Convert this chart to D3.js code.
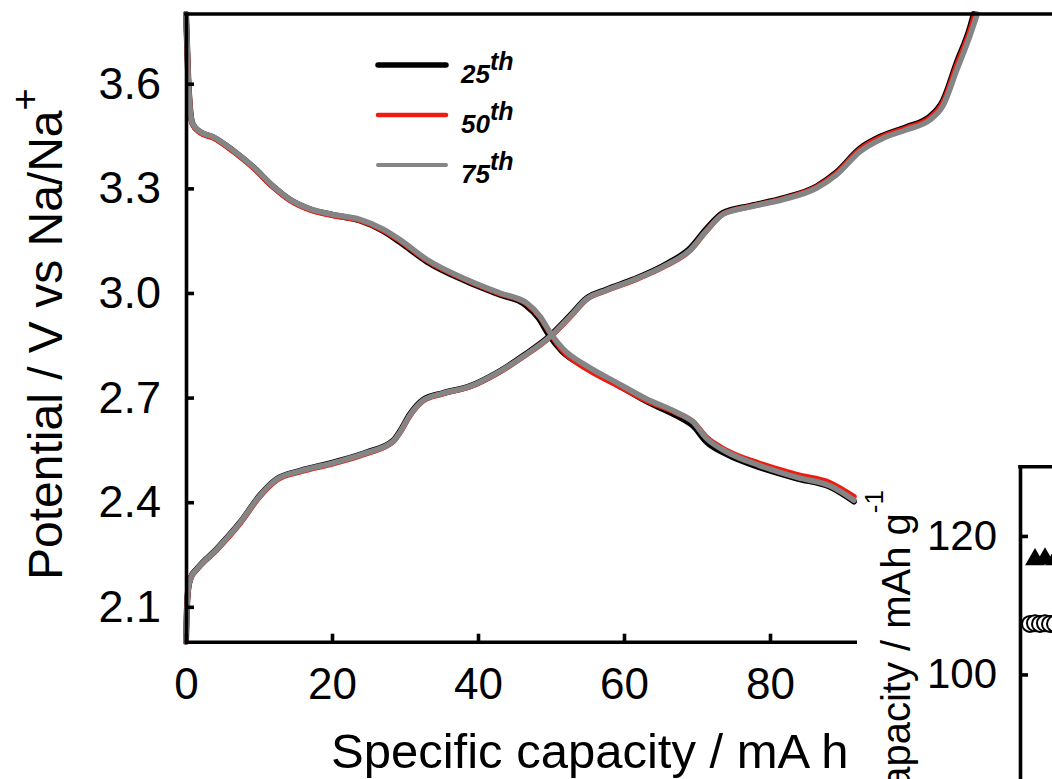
<!DOCTYPE html>
<html>
<head>
<meta charset="utf-8">
<script src="https://cdn.jsdelivr.net/npm/d3@7"></script>
<style>
  html, body { margin: 0; padding: 0; background: #fff; }
  svg { display: block; font-family: "Liberation Sans", Arial, Helvetica, sans-serif; }
</style>
</head>
<body>
<svg id="chart" width="1052" height="779"></svg>
<script>
// ---- data ---------------------------------------------------------------
const cycleLabels = ["25", "50", "75"];
const potentialTicks = [2.1, 2.4, 2.7, 3.0, 3.3, 3.6];
const capacityTicks = [0, 20, 40, 60, 80];
const insetTicks = [100, 120];

// discharge profiles: [capacity (mA h g-1), potential (V)]
const discharge25 = [
  [0, 3.80], [0.3, 3.62], [0.6, 3.52], [0.9, 3.485], [1.9, 3.462], [3.7, 3.447],
  [6.4, 3.409], [9.2, 3.361], [11.9, 3.306], [14.2, 3.268], [17.0, 3.240],
  [20.1, 3.224], [23.8, 3.208], [27.0, 3.178], [29.3, 3.146], [33.0, 3.090],
  [38.5, 3.033], [43.0, 2.995], [46.5, 2.966], [48.3, 2.928], [49.7, 2.880],
  [51.5, 2.833], [54.9, 2.786], [59.0, 2.738], [63.1, 2.689], [67.2, 2.648],
  [69.5, 2.618], [71.3, 2.573], [74.1, 2.537], [78.6, 2.500], [83.7, 2.468],
  [88.2, 2.444], [91.5, 2.402]
];
const discharge50 = [
  [0, 3.80], [0.3, 3.62], [0.6, 3.52], [0.9, 3.484], [1.9, 3.460], [3.7, 3.445],
  [6.4, 3.407], [9.2, 3.359], [11.9, 3.304], [14.2, 3.266], [17.0, 3.238],
  [20.1, 3.222], [23.8, 3.208], [27.0, 3.180], [29.3, 3.150], [33.0, 3.093],
  [38.5, 3.036], [43.0, 2.998], [46.7, 2.969], [48.5, 2.931], [49.9, 2.884],
  [51.7, 2.832], [54.9, 2.782], [59.0, 2.736], [63.1, 2.691], [67.2, 2.656],
  [69.5, 2.630], [71.3, 2.586], [74.1, 2.548], [78.6, 2.511], [83.7, 2.479],
  [88.2, 2.456], [91.5, 2.416]
];
const discharge75 = [
  [0, 3.80], [0.3, 3.62], [0.6, 3.52], [0.9, 3.486], [1.9, 3.463], [3.7, 3.448],
  [6.4, 3.410], [9.2, 3.362], [11.9, 3.307], [14.2, 3.269], [17.0, 3.241],
  [20.1, 3.225], [23.8, 3.211], [27.0, 3.183], [29.3, 3.153], [33.0, 3.096],
  [38.5, 3.038], [43.0, 3.000], [46.7, 2.971], [48.5, 2.933], [49.9, 2.886],
  [51.7, 2.839], [54.9, 2.791], [59.0, 2.743], [63.1, 2.696], [67.2, 2.658],
  [69.5, 2.629], [71.3, 2.583], [74.1, 2.544], [78.6, 2.505], [83.7, 2.471],
  [88.2, 2.447], [91.5, 2.406]
];

// charge profiles: [capacity (mA h g-1), potential (V)]
const charge25 = [
  [0, 2.00], [0.1, 2.08], [0.3, 2.15], [0.7, 2.186], [1.5, 2.209], [4.2, 2.266],
  [7.4, 2.342], [10.1, 2.419], [12.4, 2.466], [15.6, 2.490], [20.2, 2.514],
  [24.8, 2.543], [28.4, 2.577], [29.3, 2.603], [30.7, 2.653], [32.5, 2.694],
  [35.2, 2.713], [38.9, 2.733], [42.6, 2.771], [46.2, 2.820], [49.9, 2.878],
  [52.6, 2.935], [54.9, 2.985], [57.6, 3.010], [61.3, 3.039], [65.8, 3.083],
  [69.0, 3.127], [71.3, 3.184], [73.6, 3.230], [77.3, 3.250], [81.8, 3.272],
  [86.4, 3.306], [89.1, 3.346], [92.3, 3.414], [95.5, 3.452], [98.7, 3.476],
  [101.9, 3.506], [103.7, 3.552], [105.6, 3.662], [107.4, 3.762], [107.9, 3.800]
];
const charge50 = [
  [0, 2.00], [0.1, 2.08], [0.3, 2.15], [0.7, 2.184], [1.5, 2.207], [4.2, 2.263],
  [7.4, 2.339], [10.1, 2.416], [12.4, 2.463], [15.6, 2.487], [20.2, 2.511],
  [24.8, 2.540], [28.4, 2.574], [29.3, 2.599], [30.7, 2.649], [32.5, 2.691],
  [35.2, 2.711], [38.9, 2.731], [42.6, 2.769], [46.2, 2.817], [49.9, 2.874],
  [52.6, 2.931], [54.9, 2.982], [57.6, 3.007], [61.3, 3.036], [65.8, 3.079],
  [69.0, 3.121], [71.3, 3.178], [73.6, 3.227], [77.3, 3.248], [81.8, 3.270],
  [86.4, 3.304], [89.1, 3.343], [92.3, 3.411], [95.5, 3.449], [98.7, 3.473],
  [101.9, 3.502], [103.7, 3.546], [105.6, 3.654], [107.4, 3.752], [108.1, 3.800]
];
const charge75 = [
  [0, 2.00], [0.1, 2.08], [0.3, 2.15], [0.7, 2.185], [1.5, 2.208], [4.2, 2.265],
  [7.4, 2.341], [10.1, 2.418], [12.4, 2.465], [15.6, 2.489], [20.2, 2.513],
  [24.8, 2.542], [28.4, 2.575], [29.3, 2.600], [30.7, 2.650], [32.5, 2.692],
  [35.2, 2.712], [38.9, 2.732], [42.6, 2.770], [46.2, 2.818], [49.9, 2.875],
  [52.6, 2.932], [54.9, 2.983], [57.6, 3.008], [61.3, 3.037], [65.8, 3.080],
  [69.0, 3.122], [71.3, 3.178], [73.6, 3.226], [77.3, 3.247], [81.8, 3.268],
  [86.4, 3.301], [89.1, 3.339], [92.3, 3.405], [95.5, 3.444], [98.7, 3.468],
  [101.9, 3.496], [103.7, 3.537], [105.6, 3.640], [107.4, 3.738], [108.4, 3.800]
];

// inset: capacity vs cycle number
const insetChargeCycles = [3, 5, 7];
const insetChargeCapacity = [116.6, 116.7, 116.6];
const insetDischargeCycles = [2, 3, 4, 5, 6, 7];
const insetDischargeCapacity = [107.3, 107.4, 107.3, 107.4, 107.3, 107.3];

// ---- drawing -------------------------------------------------------------
const svg = d3.select("#chart");
svg.append("rect").attr("width", 1052).attr("height", 779).attr("fill", "#fff");

const x = d3.scaleLinear().domain([0, 125]).range([186, 186 + 125 * 7.3]);
const y = d3.scaleLinear().domain([2.0, 3.8]).range([641.7, 14]);

const seriesStyle = {
  "25": { color: "#000000", width: 6, legendWidth: 5.5 },
  "50": { color: "#ee1c10", width: 5.5, legendWidth: 4.6 },
  "75": { color: "#858585", width: 5.5, legendWidth: 4 }
};
const profiles = {
  "25": [discharge25, charge25],
  "50": [discharge50, charge50],
  "75": [discharge75, charge75]
};

const line = d3.line()
  .x(d => x(d[0]))
  .y(d => y(d[1]))
  .curve(d3.curveMonotoneX);

const curves = svg.append("g").attr("fill", "none")
  .attr("stroke-linejoin", "round").attr("stroke-linecap", "round");
cycleLabels.forEach(c => {
  profiles[c].forEach(p => {
    curves.append("path")
      .attr("d", line(p))
      .attr("stroke", seriesStyle[c].color)
      .attr("stroke-width", seriesStyle[c].width);
  });
});

// axes
const axisWidth = 3.6;
function styleAxis(g, size) {
  g.attr("font-size", size).attr("font-family", null);
  g.select(".domain").attr("stroke", "#000").attr("stroke-width", axisWidth)
    .attr("stroke-linecap", "square");
  g.selectAll(".tick line").attr("stroke", "#000").attr("stroke-width", axisWidth);
  g.selectAll(".tick text").attr("fill", "#000");
}

const yAxis = d3.axisLeft(y).tickValues(potentialTicks).tickFormat(d3.format(".1f"))
  .tickSizeInner(-8).tickSizeOuter(0).tickPadding(25);
svg.append("g").attr("transform", "translate(186,0)").call(yAxis).call(styleAxis, 45);

const xAxis = d3.axisBottom(x).tickValues(capacityTicks).tickFormat(d3.format("d"))
  .tickSizeInner(-8).tickSizeOuter(0).tickPadding(26);
svg.append("g").attr("transform", "translate(0,641.7)").call(xAxis).call(styleAxis, 44);

// top frame
svg.append("line")
  .attr("x1", x(0)).attr("x2", x(125)).attr("y1", y(3.8)).attr("y2", y(3.8))
  .attr("stroke", "#000").attr("stroke-width", axisWidth).attr("stroke-linecap", "square");

// axis titles
const yTitle = svg.append("text")
  .attr("transform", "translate(62,580) rotate(-90)")
  .attr("font-size", 48).attr("fill", "#000");
yTitle.append("tspan").text("Potential / V vs Na/Na");
yTitle.append("tspan").attr("dy", -24).attr("font-size", 38).text("+");

svg.append("text")
  .attr("x", 331).attr("y", 768)
  .attr("font-size", 49).attr("fill", "#000")
  .text("Specific capacity / mA h");

// legend
const legend = svg.append("g");
cycleLabels.forEach((c, i) => {
  const ly = 65 + i * 50;
  legend.append("line")
    .attr("x1", 378).attr("x2", 446).attr("y1", ly).attr("y2", ly)
    .attr("stroke", seriesStyle[c].color)
    .attr("stroke-width", seriesStyle[c].legendWidth)
    .attr("stroke-linecap", "round");
  const t = legend.append("text")
    .attr("x", 461).attr("y", ly + 18)
    .attr("font-size", 26).attr("font-weight", "bold").attr("font-style", "italic")
    .attr("fill", "#000");
  t.append("tspan").text(c);
  t.append("tspan").attr("dy", -13).attr("font-size", 25).text("th");
});

// ---- inset: capacity retention -----------------------------------------
const inset = svg.append("g");
inset.append("rect")
  .attr("x", 857).attr("y", 470).attr("width", 1052 - 857).attr("height", 779 - 470)
  .attr("fill", "#fff");

const xi = d3.scaleLinear().domain([0, 100]).range([1020, 1520]);
const yi = d3.scaleLinear().domain([80, 130]).range([812.95, 466.7]);

const yiAxis = d3.axisLeft(yi).tickValues(insetTicks).tickFormat(d3.format("d"))
  .tickSizeInner(-8).tickSizeOuter(0).tickPadding(23);
inset.append("g").attr("transform", "translate(1020,0)").call(yiAxis).call(styleAxis, 42);

inset.append("line")
  .attr("x1", xi(0)).attr("x2", xi(100)).attr("y1", yi(130)).attr("y2", yi(130))
  .attr("stroke", "#000").attr("stroke-width", axisWidth).attr("stroke-linecap", "square");

const triangle = d3.symbol(d3.symbolTriangle, 170);
inset.append("g").selectAll("path")
  .data(insetChargeCycles.map((c, i) => [c, insetChargeCapacity[i]]))
  .join("path")
  .attr("d", triangle)
  .attr("transform", d => `translate(${xi(d[0])},${yi(d[1])})`)
  .attr("fill", "#000");

inset.append("g").selectAll("circle")
  .data(insetDischargeCycles.map((c, i) => [c, insetDischargeCapacity[i]]))
  .join("circle")
  .attr("cx", d => xi(d[0])).attr("cy", d => yi(d[1])).attr("r", 8)
  .attr("fill", "#fff").attr("stroke", "#000").attr("stroke-width", 2);

const yiTitle = inset.append("text")
  .attr("transform", "translate(910,490) rotate(-90)")
  .attr("text-anchor", "end")
  .attr("font-size", 40).attr("fill", "#000");
yiTitle.append("tspan").text("Capacity / mAh g");
yiTitle.append("tspan").attr("dy", -27).attr("font-size", 26).text("-1");
</script>
</body>
</html>
